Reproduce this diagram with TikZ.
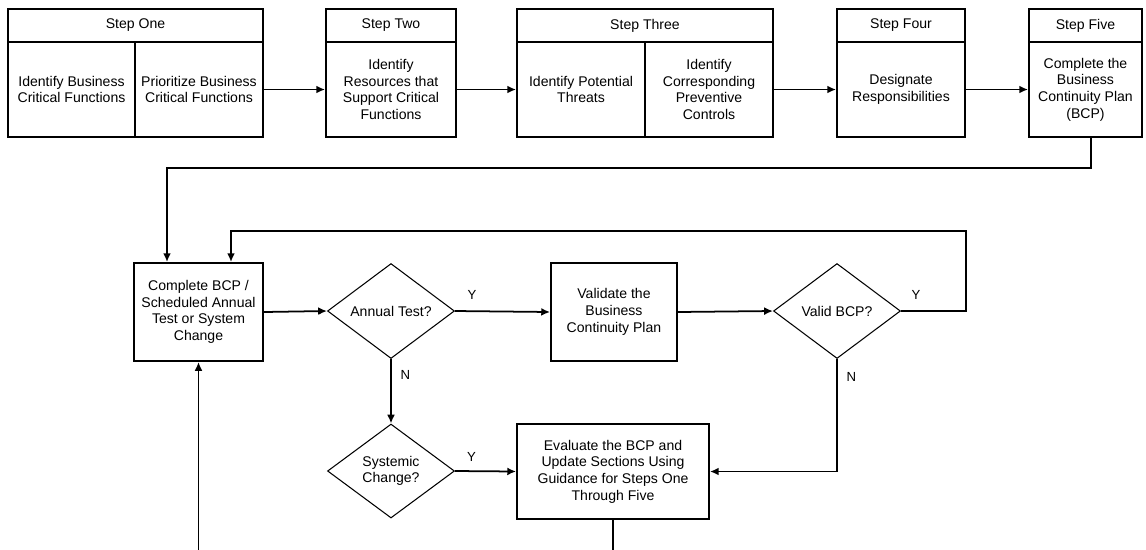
\documentclass[tikz,border=0pt]{standalone}
\usepackage{fontspec}
\setmainfont{Liberation Sans}
\usepackage{tikz}
\usetikzlibrary{shapes.geometric, arrows.meta, positioning, calc}
\tikzset{
  stephead/.style={draw=black, line width=1.1pt, minimum height=0.66cm, inner sep=0pt, align=center},
  stepcell/.style={draw=black, line width=1.1pt, minimum height=1.9cm, inner sep=0pt, align=center},
  flowbox/.style={draw=black, line width=1.1pt, minimum width=2.56cm, minimum height=1.96cm, inner sep=0pt, align=center},
  decbox/.style={diamond, draw=black, line width=0.6pt, minimum width=2.54cm, minimum height=1.9cm, inner sep=0pt, align=center},
  flowarrow/.style={-{Latex[length=5pt,width=4.5pt]}, line width=1pt, black},
  flowline/.style={line width=1pt, black},
  yesno/.style={font=\fontsize{7.5}{8}\selectfont, inner sep=1pt},
}

\begin{document}
\begin{tikzpicture}[x=0.02cm, y=-0.02cm, font=\fontsize{8}{9.5}\selectfont]
  \useasboundingbox (0,0) rectangle (1146,549);

  % the five steps
  \node[stephead, minimum width=5.1cm] (s1h) at (135.5,25.5) {Step One};
  \node[stepcell, minimum width=2.54cm] (c1a) at (71.5,89.5) {Identify Business\\Critical Functions};
  \node[stepcell, minimum width=2.56cm] (c1b) at (199,89.5) {Prioritize Business\\Critical Functions};

  \node[stephead, minimum width=2.6cm] (s2h) at (391,25.5) {Step Two};
  \node[stepcell, minimum width=2.6cm] (s2b) at (391,89.5) {Identify\\Resources that\\Support Critical\\Functions};

  \node[stephead, minimum width=5.12cm] (s3h) at (645,25.5) {Step Three};
  \node[stepcell, minimum width=2.56cm] (c3a) at (581,89.5) {Identify Potential\\Threats};
  \node[stepcell, minimum width=2.56cm] (c3b) at (709,89.5) {Identify\\Corresponding\\Preventive\\Controls};

  \node[stephead, minimum width=2.56cm] (s4h) at (901,25.5) {Step Four};
  \node[stepcell, minimum width=2.56cm] (s4b) at (901,89.5) {Designate\\Responsibilities};

  \node[stephead, minimum width=2.26cm] (s5h) at (1085.5,25.5) {Step Five};
  \node[stepcell, minimum width=2.26cm] (s5b) at (1085.5,89.5) {Complete the\\Business\\Continuity Plan\\(BCP)};

  \draw[flowarrow] (c1b.east) -- (s2b.west);
  \draw[flowarrow] (s2b.east) -- (c3a.west);
  \draw[flowarrow] (c3b.east) -- (s4b.west);
  \draw[flowarrow] (s4b.east) -- (s5b.west);

  % maintenance cycle
  \node[flowbox, minimum width=2.58cm] (complete) at (198.5,312) {Complete BCP /\\Scheduled Annual\\Test or System\\Change};
  \node[decbox] (annual) at (391,311) {Annual Test?};
  \node[flowbox, minimum width=2.52cm] (validate) at (614,312) {Validate the\\Business\\Continuity Plan};
  \node[decbox] (valid) at (837,311) {Valid BCP?};
  \node[decbox, minimum height=1.88cm] (systemic) at (391,471) {Systemic\\Change?};
  \node[flowbox, minimum width=3.84cm, minimum height=1.9cm] (evaluate) at (613,471.5) {Evaluate the BCP and\\Update Sections Using\\Guidance for Steps One\\Through Five};

  \coordinate (in1) at ($(complete.north)+(-31.5,0)$);
  \coordinate (in2) at ($(complete.north)+(32.5,0)$);

  \draw[flowarrow] ([xshift=0.11cm]s5b.south) -- ++(0,30) -| (in1);
  \draw[flowarrow] (complete.east) -- (annual.west);
  \draw[flowarrow] (annual.east) -- node[yesno, pos=0.18, above=5pt] {Y} (validate.west);
  \draw[flowarrow] (validate.east) -- (valid.west);
  \draw[flowarrow] (valid.east) -- node[yesno, pos=0.23, above=5pt] {Y} ++(65,0) |- ($(in2)+(0,-31)$) -- (in2);
  \draw[flowarrow] (annual.south) -- node[yesno, pos=0.25, right=4pt] {N} (systemic.north);
  \draw[flowarrow] (valid.south) |- node[yesno, pos=0.08, right=4pt] {N} (evaluate.east);
  \draw[flowarrow] (systemic.east) -- node[yesno, pos=0.27, above=4pt] {Y} (evaluate.west);
  \draw[flowarrow] (evaluate.south) -- ++(0,45) -| (complete.south);
\end{tikzpicture}
\end{document}
